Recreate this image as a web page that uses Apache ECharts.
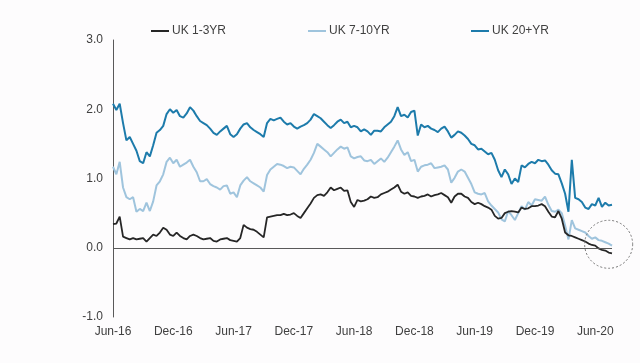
<!DOCTYPE html>
<html>
<head>
<meta charset="utf-8">
<script src="https://cdn.jsdelivr.net/npm/echarts@6/dist/echarts.min.js"></script>
<style>
html,body{margin:0;padding:0;background:#fdfcfd;}
#c{width:640px;height:363px;}
</style>
</head>
<body>
<div id="c"></div>
<script>
// Tick labels on the x axis (every 6 months, 3 observations per month)
const tickLabels = ['Jun-16','Dec-16','Jun-17','Dec-17','Jun-18','Dec-18','Jun-19','Dec-19','Jun-20'];
const seriesNames = ['UK 1-3YR','UK 7-10YR','UK 20+YR'];

const uk1to3 = [0.34,0.35,0.45,0.16,0.14,0.12,0.14,0.12,0.13,0.14,
0.09,0.14,0.19,0.17,0.22,0.29,0.26,0.19,0.17,0.22,
0.17,0.14,0.12,0.17,0.19,0.17,0.14,0.12,0.13,0.14,
0.10,0.09,0.12,0.13,0.14,0.11,0.10,0.09,0.14,0.33,
0.29,0.27,0.26,0.23,0.19,0.15,0.44,0.45,0.46,0.47,
0.47,0.49,0.47,0.48,0.50,0.46,0.43,0.50,0.57,0.64,
0.72,0.76,0.77,0.75,0.80,0.87,0.83,0.85,0.87,0.82,
0.83,0.66,0.59,0.69,0.67,0.68,0.70,0.74,0.72,0.73,
0.77,0.79,0.81,0.84,0.87,0.91,0.81,0.78,0.80,0.75,
0.74,0.72,0.74,0.75,0.77,0.74,0.76,0.77,0.79,0.76,
0.73,0.65,0.74,0.78,0.78,0.74,0.72,0.66,0.63,0.65,
0.63,0.60,0.58,0.55,0.46,0.42,0.43,0.50,0.52,0.53,
0.52,0.51,0.58,0.56,0.57,0.60,0.60,0.61,0.63,0.60,
0.52,0.45,0.44,0.53,0.42,0.22,0.18,0.17,0.15,0.13,
0.11,0.09,0.06,0.04,0.03,-0.01,-0.03,-0.04,-0.07,-0.08];

const uk7to10 = [1.17,1.06,1.24,0.87,0.73,0.70,0.73,0.52,0.56,0.53,
0.65,0.53,0.67,0.90,0.96,1.06,1.24,1.30,1.22,1.27,
1.17,1.20,1.23,1.27,1.17,1.09,0.96,0.96,0.99,0.92,
0.89,0.87,0.84,0.89,0.90,0.78,0.80,0.73,0.90,0.97,
1.02,0.96,0.93,0.90,0.87,0.81,1.05,1.13,1.17,1.21,
1.20,1.18,1.15,1.17,1.16,1.11,1.06,1.14,1.20,1.27,
1.37,1.50,1.46,1.42,1.38,1.32,1.37,1.42,1.46,1.43,
1.45,1.32,1.29,1.31,1.32,1.26,1.25,1.27,1.21,1.25,
1.29,1.24,1.30,1.38,1.46,1.55,1.42,1.34,1.38,1.25,
1.27,1.10,1.17,1.19,1.20,1.22,1.15,1.16,1.17,1.19,
1.13,0.94,1.01,1.10,1.13,1.10,1.01,0.92,0.80,0.78,
0.77,0.79,0.67,0.61,0.56,0.51,0.41,0.38,0.53,0.47,
0.40,0.50,0.60,0.55,0.66,0.61,0.70,0.69,0.68,0.74,
0.62,0.53,0.52,0.55,0.50,0.32,0.12,0.40,0.28,0.26,
0.24,0.22,0.17,0.13,0.15,0.11,0.10,0.08,0.06,0.03];

const uk20plus = [2.08,1.99,2.08,1.80,1.55,1.60,1.50,1.40,1.25,1.22,
1.38,1.32,1.48,1.66,1.70,1.76,1.93,2.00,1.95,1.99,
1.90,1.88,1.94,2.03,1.98,1.90,1.83,1.80,1.77,1.72,
1.66,1.63,1.68,1.72,1.76,1.64,1.60,1.64,1.72,1.78,
1.80,1.74,1.70,1.67,1.64,1.60,1.80,1.86,1.84,1.86,
1.88,1.82,1.78,1.80,1.75,1.72,1.75,1.77,1.80,1.85,
1.93,1.90,1.87,1.82,1.77,1.73,1.77,1.82,1.85,1.80,
1.82,1.74,1.76,1.74,1.68,1.71,1.68,1.63,1.69,1.69,
1.68,1.74,1.78,1.82,1.90,2.03,1.90,1.92,1.88,1.96,
1.98,1.62,1.78,1.74,1.76,1.72,1.70,1.67,1.72,1.75,
1.68,1.59,1.63,1.68,1.66,1.62,1.57,1.50,1.48,1.42,
1.43,1.39,1.35,1.37,1.27,1.12,1.02,1.13,1.06,0.92,
1.00,0.95,1.19,1.16,1.21,1.24,1.22,1.27,1.25,1.26,
1.20,1.12,1.07,1.06,0.93,0.78,0.52,1.27,0.72,0.70,
0.66,0.58,0.56,0.63,0.61,0.72,0.59,0.65,0.61,0.62];

const categories = uk1to3.map((_, i) => i);
const PER_TICK = 18;

const chart = echarts.init(document.getElementById('c'), null, {renderer: 'canvas'});
const textColor = '#404040';
const font = 'Liberation Sans, Arial, sans-serif';

function legendAt(name, left) {
  return {
    data: [name], left: left, top: 20,
    icon: 'rect', itemWidth: 18, itemHeight: 2, itemGap: 0,
    textStyle: {color: textColor, fontSize: 12, fontFamily: font, padding: [0,0,0,-2]},
    selectedMode: false
  };
}

chart.setOption({
  backgroundColor: '#fdfcfd',
  animation: false,
  legend: [legendAt(seriesNames[0], 146), legendAt(seriesNames[1], 303), legendAt(seriesNames[2], 466)],
  grid: {left: 113, right: 28, top: 40, bottom: 46, containLabel: false},
  xAxis: {
    type: 'category', data: categories, boundaryGap: false,
    axisLine: {show: false}, axisTick: {show: false},
    axisLabel: {
      interval: PER_TICK - 1, margin: 9, color: textColor, fontSize: 12, fontFamily: font,
      formatter: (v, idx) => tickLabels[Math.round(idx / PER_TICK)] || ''
    },
    splitLine: {show: false}
  },
  yAxis: {
    type: 'value', min: -1, max: 3, interval: 1,
    axisLine: {show: true, lineStyle: {color: '#595959', width: 1}},
    axisTick: {show: false},
    axisLabel: {color: textColor, fontSize: 12, fontFamily: font, margin: 10, formatter: v => v.toFixed(1)},
    splitLine: {show: false}
  },
  series: [
    {
      name: seriesNames[0], type: 'line', data: uk1to3, showSymbol: false, symbol: 'none',
      lineStyle: {color: '#262626', width: 1.8}, itemStyle: {color: '#262626'}, z: 4,
      markLine: {
        silent: true, symbol: 'none', label: {show: false},
        lineStyle: {color: '#595959', width: 1, type: 'solid'},
        data: [{yAxis: 0}]
      }
    },
    {
      name: seriesNames[1], type: 'line', data: uk7to10, showSymbol: false, symbol: 'none',
      lineStyle: {color: '#9fc4dd', width: 2}, itemStyle: {color: '#9fc4dd'}, z: 3
    },
    {
      name: seriesNames[2], type: 'line', data: uk20plus, showSymbol: false, symbol: 'none',
      lineStyle: {color: '#1d7bab', width: 2}, itemStyle: {color: '#1d7bab'}, z: 2
    }
  ]
});

// dashed circle annotation around the latest short-end readings
const centre = chart.convertToPixel({xAxisIndex: 0, yAxisIndex: 0}, [148, 0.05]);
chart.setOption({
  graphic: [{
    type: 'circle', shape: {cx: centre[0], cy: centre[1], r: 24},
    style: {fill: 'none', stroke: '#777', lineWidth: 1, lineDash: [2, 2]},
    silent: true, z: 10
  }]
});
</script>
</body>
</html>
